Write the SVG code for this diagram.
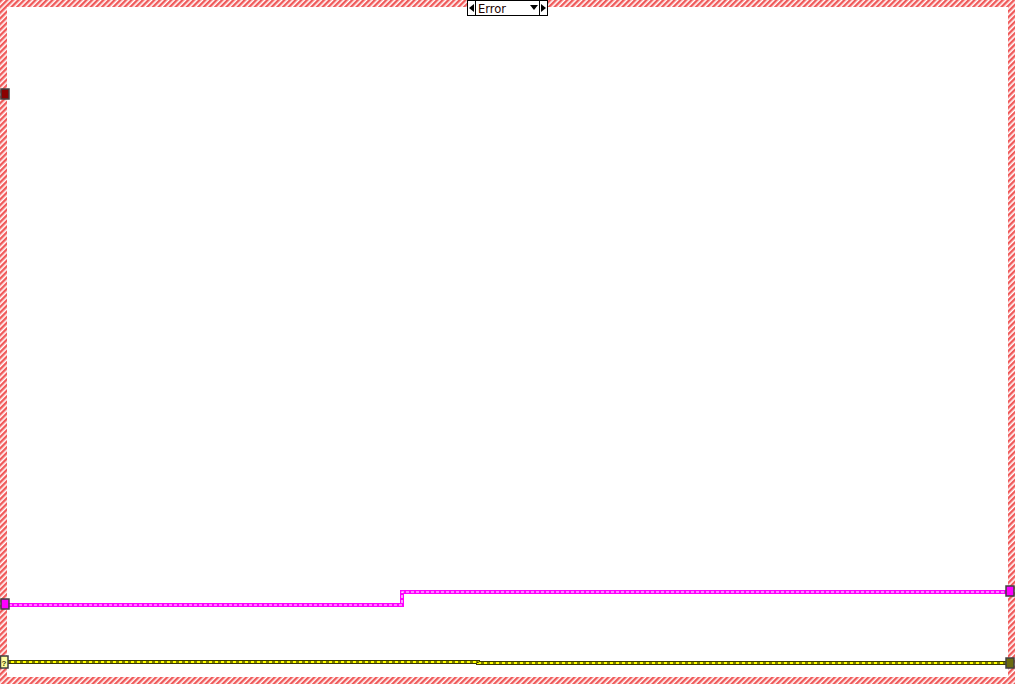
<svg xmlns="http://www.w3.org/2000/svg" width="1015" height="684" viewBox="0 0 1015 684">
<defs>
<pattern id="hatch" width="4" height="4" patternUnits="userSpaceOnUse" patternTransform="rotate(45)">
<rect width="4" height="4" fill="#ffffff"/>
<rect width="2.4" height="4" fill="#f05a5a"/>
</pattern>
</defs>
<style>
.pinkOut{fill:none;stroke:#ff00ff;stroke-width:4}
.pinkIn{fill:none;stroke:#ffffff;stroke-width:1.2;stroke-dasharray:3 2}
.yOut{fill:none;stroke:#3a3a00;stroke-width:4}
.yIn{fill:none;stroke:#ffff00;stroke-width:2}
.yDash{fill:none;stroke:#000000;stroke-width:1.2;stroke-dasharray:3 3}
.term{stroke:#404040;stroke-width:1.5}
.lbl{font-family:"DejaVu Sans","Liberation Sans",Arial,sans-serif;font-size:11.5px;fill:#200000}
</style>
<rect width="1015" height="684" fill="#ffffff"/>
<g id="frame">
<path d="M0,0H1015V684H0Z M7,7V677H1008V7Z" fill="url(#hatch)" fill-rule="evenodd"/>
</g>
<g id="selector">
<rect x="467.5" y="0.5" width="80" height="15" fill="#ffffff" stroke="#000000"/>
<line x1="475.5" y1="0" x2="475.5" y2="16" stroke="#000000"/>
<line x1="539.5" y1="0" x2="539.5" y2="16" stroke="#000000"/>
<polygon points="469,8 474,4 474,12" fill="#000000"/>
<polygon points="546,8 541,4 541,12" fill="#000000"/>
<polygon points="530,5 538,5 534,10" fill="#000000"/>
<text class="lbl" x="478" y="13">Error</text>
</g>
<g id="connectors">
<path class="pinkOut" d="M9,605H402V592H1006"/>
<path class="pinkIn" d="M9,605H402V592H1006"/>
<path class="yOut" d="M8,662H478V663H1006"/>
<path class="yIn" d="M8,662H478V663H1006"/>
<path class="yDash" d="M8,662H478V663H1006"/>
</g>
<g id="error-in">
<rect x="1" y="89" width="8" height="10" fill="#8b0000" class="term"/>
</g>
<g id="pink-tunnel-left">
<rect x="1" y="599" width="8" height="10" fill="#ff00ff" class="term"/>
</g>
<g id="pink-tunnel-right">
<rect x="1006" y="586" width="8" height="10" fill="#ff00ff" class="term"/>
</g>
<g id="case-selector-terminal">
<rect x="0.5" y="656" width="7.5" height="12" fill="#ffffa0" stroke="#404040" stroke-width="1.5"/>
<text x="1.5" y="665.5" font-family="Liberation Sans,Arial,sans-serif" font-size="8" font-weight="bold" fill="#404000">?</text>
</g>
<g id="yellow-tunnel-right">
<rect x="1006" y="658" width="8" height="10" fill="#6b6b10" class="term"/>
</g>
</svg>
